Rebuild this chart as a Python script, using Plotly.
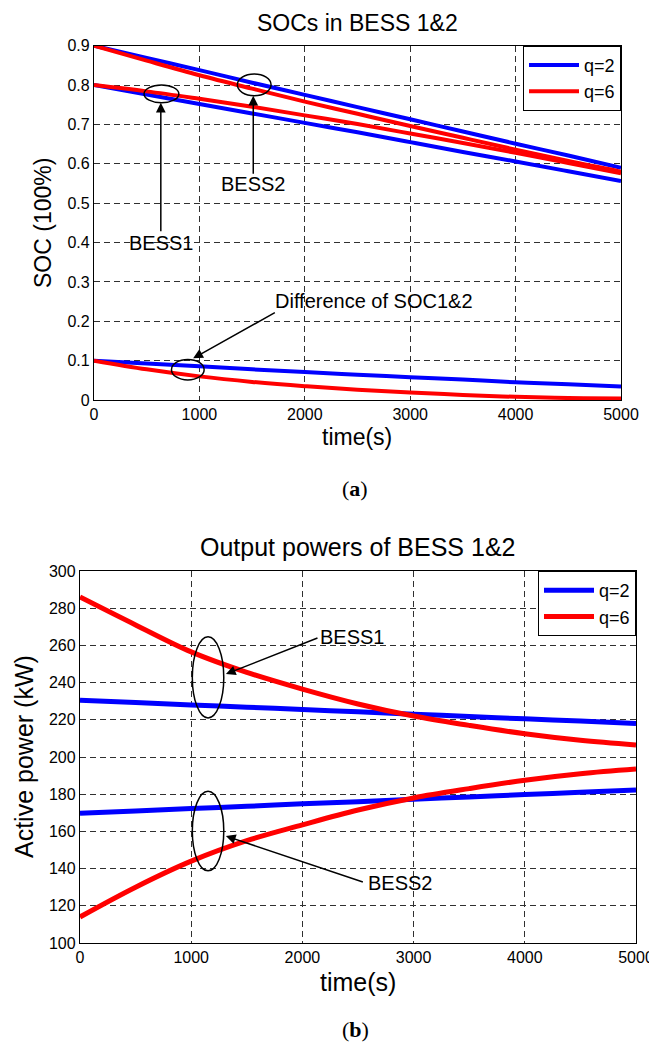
import plotly.graph_objects as go

# time axis (s)
t = [0, 500, 1000, 1500, 2000, 2500, 3000, 3500, 4000, 4500, 5000]

# SOCs
soc_b1_q2 = [0.800, 0.776, 0.752, 0.728, 0.704, 0.680, 0.655, 0.630, 0.606, 0.581, 0.556]
soc_b2_q2 = [0.900, 0.869, 0.838, 0.806, 0.775, 0.744, 0.713, 0.682, 0.651, 0.621, 0.590]
soc_b1_q6 = [0.800, 0.784, 0.765, 0.745, 0.723, 0.701, 0.677, 0.653, 0.628, 0.602, 0.576]
soc_b2_q6 = [0.900, 0.862, 0.825, 0.791, 0.758, 0.727, 0.696, 0.666, 0.636, 0.607, 0.580]
diff_q2 = [0.100, 0.093, 0.086, 0.078, 0.071, 0.064, 0.058, 0.052, 0.045, 0.040, 0.034]
diff_q6 = [0.100, 0.078, 0.060, 0.046, 0.035, 0.026, 0.019, 0.013, 0.008, 0.005, 0.004]

# output powers, kW
p_b1_q2 = [230.5, 229.3, 228.0, 226.8, 225.5, 224.3, 223.0, 221.8, 220.5, 219.3, 218.0]
p_b2_q2 = [169.8, 171.0, 172.3, 173.5, 174.8, 176.0, 177.3, 178.5, 179.8, 181.0, 182.3]
p_b1_q6 = [286.0, 271.0, 256.5, 245.5, 236.5, 228.5, 222.0, 217.0, 212.5, 209.0, 206.5]
p_b2_q6 = [114.0, 130.0, 144.0, 155.0, 163.5, 171.5, 178.0, 183.0, 187.5, 191.0, 193.5]

x_ticks = [0, 1000, 2000, 3000, 4000, 5000]
soc_ticks = [0, 0.1, 0.2, 0.3, 0.4, 0.5, 0.6, 0.7, 0.8, 0.9]
soc_ticktext = ['0', '0.1', '0.2', '0.3', '0.4', '0.5', '0.6', '0.7', '0.8', '0.9']
p_ticks = [100, 120, 140, 160, 180, 200, 220, 240, 260, 280, 300]

BLUE = '#0000ff'
RED = '#ff0000'
FONT = 'Liberation Sans, Arial, sans-serif'

# the page body keeps its 8px margin, so the figure sits at (8, 8) in the window
OFF = 8
W, H = 657 - OFF, 1046 - OFF


def fx(px):
    return (px - OFF) / W


def fy(py):
    return 1 - (py - OFF) / H


fig = go.Figure()

# panel (a)
for y, c, name, show in [(soc_b2_q2, BLUE, 'q=2', True), (soc_b1_q2, BLUE, 'q=2', False),
                         (diff_q2, BLUE, 'q=2', False),
                         (soc_b2_q6, RED, 'q=6', True), (soc_b1_q6, RED, 'q=6', False),
                         (diff_q6, RED, 'q=6', False)]:
    fig.add_trace(go.Scatter(x=t, y=y, mode='lines', line=dict(color=c, width=4, shape='spline'),
                             name=name, showlegend=show, legend='legend',
                             xaxis='x', yaxis='y'))

# panel (b)
for y, c, name, show in [(p_b1_q2, BLUE, 'q=2', True), (p_b2_q2, BLUE, 'q=2', False),
                         (p_b1_q6, RED, 'q=6', True), (p_b2_q6, RED, 'q=6', False)]:
    fig.add_trace(go.Scatter(x=t, y=y, mode='lines', line=dict(color=c, width=5, shape='spline'),
                             name=name, showlegend=show, legend='legend2',
                             xaxis='x2', yaxis='y2'))

axis_style = dict(
    showline=True, mirror=True, linecolor='black', linewidth=1.3,
    showgrid=True, gridcolor='#303030', gridwidth=1, griddash='6px,4px',
    zeroline=False, ticks='', automargin=False,
    tickfont=dict(family=FONT, size=16, color='black'),
)

legend_style = dict(xanchor='right', yanchor='top', bgcolor='white',
                    bordercolor='black', borderwidth=1, itemwidth=50,
                    font=dict(size=18, family=FONT), tracegroupgap=0)

fig.update_layout(
    width=W, height=H,
    template='none',
    paper_bgcolor='white', plot_bgcolor='white',
    margin=dict(l=0, r=0, t=0, b=0, pad=0, autoexpand=False),
    font=dict(family=FONT, color='black'),
    xaxis=dict(domain=[fx(94), fx(621)], range=[0, 5000], tickvals=x_ticks,
               anchor='y', **axis_style),
    yaxis=dict(domain=[fy(400), fy(45.7)], range=[0, 0.9], tickvals=soc_ticks,
               ticktext=soc_ticktext, anchor='x', **axis_style),
    xaxis2=dict(domain=[fx(80), fx(636)], range=[0, 5000], tickvals=x_ticks,
                anchor='y2', ticklabeloverflow='allow', **axis_style),
    yaxis2=dict(domain=[fy(943), fy(571)], range=[100, 300], tickvals=p_ticks,
                anchor='x2', **axis_style),
    legend=dict(x=fx(621), y=fy(45.7), **legend_style),
    legend2=dict(x=fx(636), y=fy(571), **legend_style),
    showlegend=True,
)

# ellipses marking the curves
ellipses = [
    ('x', 'y', 475, 805, 0.755, 0.800),
    ('x', 'y', 1360, 1680, 0.773, 0.828),
    ('x', 'y', 735, 1045, 0.051, 0.103),
    ('x2', 'y2', 1010, 1293, 221.0, 264.6),
    ('x2', 'y2', 1010, 1293, 138.8, 181.6),
]
for xr, yr, x0, x1, y0, y1 in ellipses:
    fig.add_shape(type='circle', xref=xr, yref=yr, x0=x0, x1=x1, y0=y0, y1=y1,
                  line=dict(color='black', width=1.5))

# arrows (tail -> head)
arrows = [
    ('x', 'y', 634, 0.425, 634, 0.755),
    ('x', 'y', 1511, 0.571, 1511, 0.773),
    ('x', 'y', 1730, 0.224, 941, 0.106),
    ('x2', 'y2', 2149, 264.3, 1312, 244.6),
    ('x2', 'y2', 2557, 132.5, 1312, 157.5),
]
for xr, yr, ax, ay, x, y in arrows:
    fig.add_annotation(xref=xr, yref=yr, axref=xr, ayref=yr, x=x, y=y, ax=ax, ay=ay,
                       text='', showarrow=True, arrowhead=2, arrowsize=1.3,
                       arrowwidth=1.5, arrowcolor='black')

labels = [
    ('x', 'y', 634, 0.400, 'BESS1'),
    ('x', 'y', 1511, 0.549, 'BESS2'),
    ('x', 'y', 2656, 0.252, 'Difference of SOC1&2'),
    ('x2', 'y2', 2447, 264.3, 'BESS1'),
    ('x2', 'y2', 2877, 132.0, 'BESS2'),
]
for xr, yr, x, y, txt in labels:
    fig.add_annotation(xref=xr, yref=yr, x=x, y=y, text=txt, showarrow=False,
                       font=dict(size=20, family=FONT, color='black'))

# titles, axis titles and panel captions (window pixel positions)
texts = [
    (357, 22.7, 'SOCs in BESS 1&2', 23, 0, FONT),
    (357, 437, 'time(s)', 23, 0, FONT),
    (43, 223, 'SOC (100%)', 23, -90, FONT),
    (355, 488, '(<b>a</b>)', 22, 0, 'Liberation Serif, serif'),
    (357, 547, 'Output powers of BESS 1&2', 25, 0, FONT),
    (358, 982, 'time(s)', 25, 0, FONT),
    (24, 757, 'Active power (kW)', 25, -90, FONT),
    (355, 1029, '(<b>b</b>)', 22, 0, 'Liberation Serif, serif'),
]
for px, py, txt, size, ang, fam in texts:
    fig.add_annotation(xref='paper', yref='paper', x=fx(px), y=fy(py),
                       xanchor='center', yanchor='middle', text=txt, showarrow=False,
                       textangle=ang, font=dict(size=size, family=fam, color='black'))

fig.write_html("out.html")
